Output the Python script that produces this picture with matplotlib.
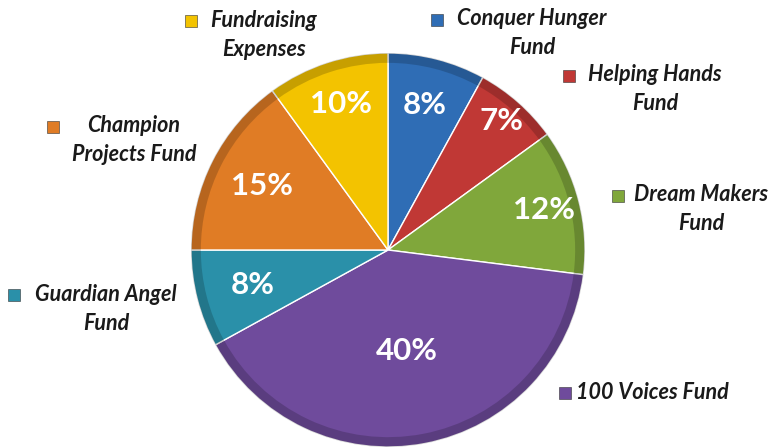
import matplotlib
matplotlib.use("Agg")
import matplotlib.pyplot as plt
import numpy as np

categories = ["Conquer Hunger\nFund", "Helping Hands\nFund", "Dream Makers\nFund",
              "100 Voices Fund", "Guardian Angel\nFund", "Champion\nProjects Fund",
              "Fundraising\nExpenses"]
shares = [8, 7, 12, 40, 8, 15, 10]

colors = ["#2F6DB5", "#C03835", "#80A73B", "#6F4B9C", "#2A90A9", "#E07C25", "#F3C300"]

# radial position of the percent labels, per slice
pct_dist = [0.76, 0.87, 0.82, 0.52, 0.71, 0.72, 0.78]

# label anchors (data coords, pie radius = 1): marker x, marker y, text center x
label_pos = [
    (0.25, 1.17, 0.73),
    (0.92, 0.885, 1.355),
    (1.17, 0.275, 1.59),
    (0.90, -0.725, 1.34),
    (-1.90, -0.23, -1.43),
    (-1.70, 0.625, -1.29),
    (-1.00, 1.16, -0.63),
]

FONT = ["Lato", "DejaVu Sans"]

fig = plt.figure(figsize=(7.68, 4.47), dpi=100)
ax = fig.add_axes([0, 0, 1, 1])

wedges, _ = ax.pie(shares, colors=colors, startangle=90, counterclock=False,
                   radius=1.0, wedgeprops=dict(edgecolor="white", linewidth=1.0))

# rim shading for a bit of depth
ax.pie(shares, colors=["black"] * len(shares), startangle=90, counterclock=False,
       radius=1.0, wedgeprops=dict(width=0.05, alpha=0.18, linewidth=0))

ax.set_xlim(-388 / 197, 380 / 197)
ax.set_ylim(-197 / 197, 250 / 197)
ax.set_aspect("equal")
ax.axis("off")

for w, d, v in zip(wedges, pct_dist, shares):
    ang = np.deg2rad((w.theta1 + w.theta2) / 2)
    ax.text(d * np.cos(ang), d * np.sin(ang), f"{v}%", ha="center", va="center",
            color="white", fontsize=22.5, fontweight="bold", family=FONT)

for lbl, c, (mx, my, tx) in zip(categories, colors, label_pos):
    ax.plot(mx, my, marker="s", markersize=8, color=c, markeredgecolor="#333333",
            markeredgewidth=0.4)
    multi = "\n" in lbl
    ax.text(tx, my + (0.058 if multi else 0), lbl, ha="center",
            va="top" if multi else "center",
            fontsize=15.5, fontweight="bold", fontstyle="italic", family=FONT,
            color="#1a1a1a", linespacing=1.45)

fig.savefig("out.png", dpi=100)
